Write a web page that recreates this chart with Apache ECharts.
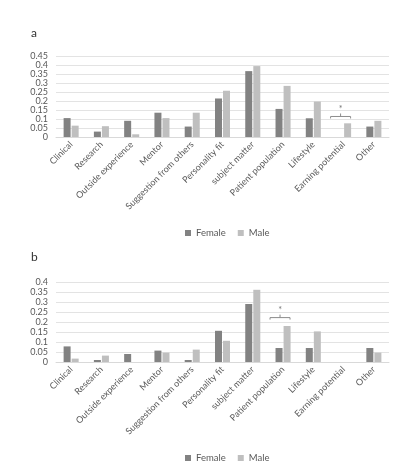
<!DOCTYPE html>
<html>
<head>
<meta charset="utf-8">
<script src="https://cdn.jsdelivr.net/npm/echarts@6/dist/echarts.min.js"></script>
<style>
html,body{margin:0;padding:0;background:#fff;}
#chart{width:398px;height:466px;}
</style>
</head>
<body>
<div id="chart"></div>
<script>
var categories = ['Clinical','Research','Outside experience','Mentor','Suggestion from others','Personality fit','subject matter','Patient population','Lifestyle','Earning potential','Other'];
var femaleA = [0.105,0.03,0.09,0.135,0.058,0.214,0.366,0.156,0.104,0,0.058];
var maleA   = [0.063,0.06,0.015,0.105,0.135,0.257,0.394,0.284,0.197,0.076,0.09];
var femaleB = [0.078,0.01,0.04,0.057,0.01,0.156,0.29,0.07,0.07,0,0.07];
var maleB   = [0.017,0.032,0,0.047,0.062,0.106,0.361,0.18,0.153,0,0.047];
var ticksA = {max:0.45, interval:0.05};
var ticksB = {max:0.4, interval:0.05};
// significance marks: [category index, bracket value]
var sigA = [[9, 0.114]];
var sigB = [[7, 0.222]];

var font = 'Lato, "Open Sans", sans-serif';
var myChart = echarts.init(document.getElementById('chart'));

function bracket(params, api){
	var c = api.coord([api.value(0), api.value(1)]);
	var x = c[0]-3, y = c[1];
	var w = 10;
	return {
		type:'group',
		children:[
			{type:'polyline', shape:{points:[[x-w,y+2],[x-w,y],[x+w,y],[x+w,y+2]]}, style:{stroke:'#8c8c8c',lineWidth:1,fill:null}},
			{type:'line', shape:{x1:x,y1:y,x2:x,y2:y-3}, style:{stroke:'#8c8c8c',lineWidth:1}},
			{type:'text', style:{text:'*',x:x,y:y-3,align:'center',verticalAlign:'bottom',fill:'#777',font:'9px '+font}}
		]
	};
}

function xAxis(idx){
	return {
		type:'category', gridIndex:idx, data:categories,
		axisTick:{show:false},
		axisLine:{lineStyle:{color:'#d9d9d9'}},
		axisLabel:{rotate:45, interval:0, fontSize:9, color:'#595959', fontFamily:font, margin:6}
	};
}
function yAxis(idx, t){
	return {
		type:'value', gridIndex:idx, min:0, max:t.max, interval:t.interval,
		axisLine:{show:false}, axisTick:{show:false},
		splitLine:{lineStyle:{color:'#e3e3e3'}},
		axisLabel:{fontSize:9, color:'#595959', fontFamily:font, margin:8,
			showMinLabel:true, showMaxLabel:true,
			formatter:function(v){return v===0?'0':String(+v.toFixed(2));}}
	};
}

var legendStyle = {fontSize:9.5, color:'#595959', fontFamily:font};
var option = {
	animation:false,
	textStyle:{fontFamily:font},
	title:[
		{text:'a', left:26, top:22, textStyle:{fontSize:12, fontWeight:'normal', color:'#333', fontFamily:font}},
		{text:'b', left:26, top:246, textStyle:{fontSize:12, fontWeight:'normal', color:'#333', fontFamily:font}}
	],
	legend:[
		{data:['Female','Male'], left:180, top:223, itemWidth:6, itemHeight:6, itemGap:12, icon:'rect', textStyle:legendStyle},
		{data:['Female','Male'], left:180, top:448, itemWidth:6, itemHeight:6, itemGap:12, icon:'rect', textStyle:legendStyle}
	],
	grid:[
		{left:56, right:9, top:56, height:81},
		{left:56, right:9, top:282, height:80}
	],
	xAxis:[xAxis(0), xAxis(1)],
	yAxis:[yAxis(0, ticksA), yAxis(1, ticksB)],
	series:[
		{name:'Female', type:'bar', xAxisIndex:0, yAxisIndex:0, data:femaleA, barWidth:7, barGap:'15%', itemStyle:{color:'#828282'}},
		{name:'Male', type:'bar', xAxisIndex:0, yAxisIndex:0, data:maleA, barWidth:7, barGap:'15%', itemStyle:{color:'#bfbfbf'}},
		{name:'Female', type:'bar', xAxisIndex:1, yAxisIndex:1, data:femaleB, barWidth:7, barGap:'15%', itemStyle:{color:'#828282'}},
		{name:'Male', type:'bar', xAxisIndex:1, yAxisIndex:1, data:maleB, barWidth:7, barGap:'15%', itemStyle:{color:'#bfbfbf'}},
		{type:'custom', xAxisIndex:0, yAxisIndex:0, data:sigA, renderItem:bracket, silent:true, z:5},
		{type:'custom', xAxisIndex:1, yAxisIndex:1, data:sigB, renderItem:bracket, silent:true, z:5}
	]
};
myChart.setOption(option);
</script>
</body>
</html>
